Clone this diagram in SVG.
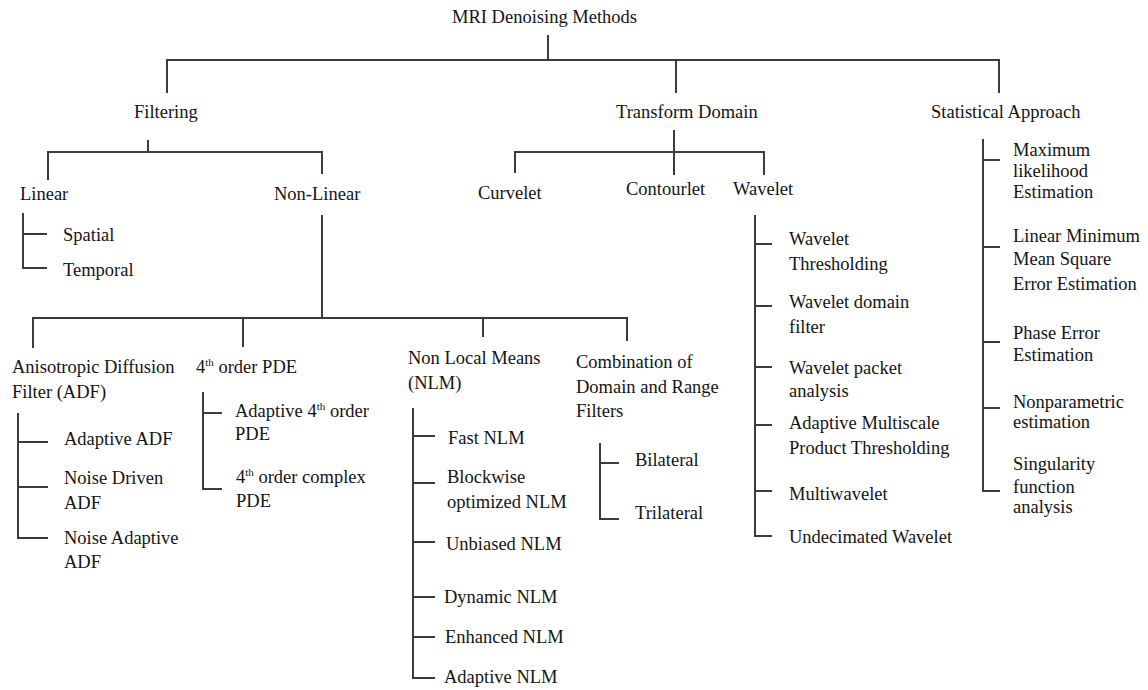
<svg xmlns="http://www.w3.org/2000/svg" width="1148" height="690" viewBox="0 0 1148 690">
<style>
text{font-family:"Liberation Serif","Times New Roman",serif;font-size:18.5px;fill:#141414}
.c path{fill:none;stroke:#3c3c3c;stroke-width:2}
.sup{font-size:11px}
</style>
<rect width="1148" height="690" fill="#fff"/>
<g class="c" id="connectors">
<path d="M548,35V60M167,93V60H999V93M676,60V93"/>
<path d="M148,140V152M48,180V152H322V174"/>
<path d="M23,213V268H47M23,234H47"/>
<path d="M322,215V318M33,348V318H627V341M243,318V347M483,318V337"/>
<path d="M18,413V538H48M18,442H48M18,487H48"/>
<path d="M203,392V489H222M203,413H222"/>
<path d="M413,408V678H435M413,436H435M413,483H435M413,542H435M413,597H435M413,637H435"/>
<path d="M600,443V519H619M600,463H619"/>
<path d="M674,130V152M515,173V152H764V175M674,152V175"/>
<path d="M755,215V536H772M755,244H772M755,306H772M755,367H772M755,425H772M755,491H772"/>
<path d="M983,139V491H1000M983,160H1000M983,247H1000M983,342H1000M983,408H1000"/>
</g>
<g id="root"><text x="452" y="23">MRI Denoising Methods</text></g>
<g id="filtering"><text x="134" y="118">Filtering</text></g>
<g id="transform"><text x="616" y="118">Transform Domain</text></g>
<g id="statistical"><text x="931" y="118">Statistical Approach</text></g>
<g id="linear"><text x="20" y="200">Linear</text></g>
<g id="nonlinear"><text x="274" y="200">Non-Linear</text></g>
<g id="spatial"><text x="63" y="241">Spatial</text></g>
<g id="temporal"><text x="63" y="276">Temporal</text></g>
<g id="adf"><text x="12" y="373">Anisotropic Diffusion</text><text x="12" y="398">Filter (ADF)</text></g>
<g id="pde4"><text x="196" y="373">4<tspan class="sup" dy="-7">th</tspan><tspan dy="7"> order PDE</tspan></text></g>
<g id="nlm"><text x="408" y="364">Non Local Means</text><text x="408" y="389">(NLM)</text></g>
<g id="comb"><text x="576" y="368">Combination of</text><text x="576" y="393">Domain and Range</text><text x="576" y="417">Filters</text></g>
<g id="adaptive-adf"><text x="64" y="445">Adaptive ADF</text></g>
<g id="noise-driven"><text x="64" y="484">Noise Driven</text><text x="64" y="509">ADF</text></g>
<g id="noise-adaptive"><text x="64" y="544">Noise Adaptive</text><text x="64" y="568">ADF</text></g>
<g id="adaptive-pde"><text x="235" y="417">Adaptive 4<tspan class="sup" dy="-7">th</tspan><tspan dy="7"> order</tspan></text><text x="235" y="440">PDE</text></g>
<g id="complex-pde"><text x="236" y="483">4<tspan class="sup" dy="-7">th</tspan><tspan dy="7"> order complex</tspan></text><text x="236" y="507">PDE</text></g>
<g id="fast-nlm"><text x="448" y="444">Fast NLM</text></g>
<g id="blockwise-nlm"><text x="447" y="483">Blockwise</text><text x="447" y="508">optimized NLM</text></g>
<g id="unbiased-nlm"><text x="446" y="550">Unbiased NLM</text></g>
<g id="dynamic-nlm"><text x="444" y="603">Dynamic NLM</text></g>
<g id="enhanced-nlm"><text x="445" y="643">Enhanced NLM</text></g>
<g id="adaptive-nlm"><text x="444" y="683">Adaptive NLM</text></g>
<g id="bilateral"><text x="635" y="466">Bilateral</text></g>
<g id="trilateral"><text x="635" y="519">Trilateral</text></g>
<g id="curvelet"><text x="478" y="199">Curvelet</text></g>
<g id="contourlet"><text x="626" y="195">Contourlet</text></g>
<g id="wavelet"><text x="733" y="195">Wavelet</text></g>
<g id="wavelet-thr"><text x="789" y="245">Wavelet</text><text x="789" y="270">Thresholding</text></g>
<g id="wavelet-domain"><text x="789" y="308">Wavelet domain</text><text x="789" y="333">filter</text></g>
<g id="wavelet-packet"><text x="789" y="374">Wavelet packet</text><text x="789" y="397">analysis</text></g>
<g id="ampt"><text x="789" y="429">Adaptive Multiscale</text><text x="789" y="454">Product Thresholding</text></g>
<g id="multiwavelet"><text x="789" y="500">Multiwavelet</text></g>
<g id="undecimated"><text x="789" y="543">Undecimated Wavelet</text></g>
<g id="mle"><text x="1013" y="156">Maximum</text><text x="1013" y="177">likelihood</text><text x="1013" y="198">Estimation</text></g>
<g id="lmmse"><text x="1013" y="242">Linear Minimum</text><text x="1013" y="265">Mean Square</text><text x="1013" y="290">Error Estimation</text></g>
<g id="phase"><text x="1013" y="339">Phase Error</text><text x="1013" y="361">Estimation</text></g>
<g id="nonparam"><text x="1013" y="408">Nonparametric</text><text x="1013" y="428">estimation</text></g>
<g id="singularity"><text x="1013" y="470">Singularity</text><text x="1013" y="493">function</text><text x="1013" y="513">analysis</text></g>
</svg>
